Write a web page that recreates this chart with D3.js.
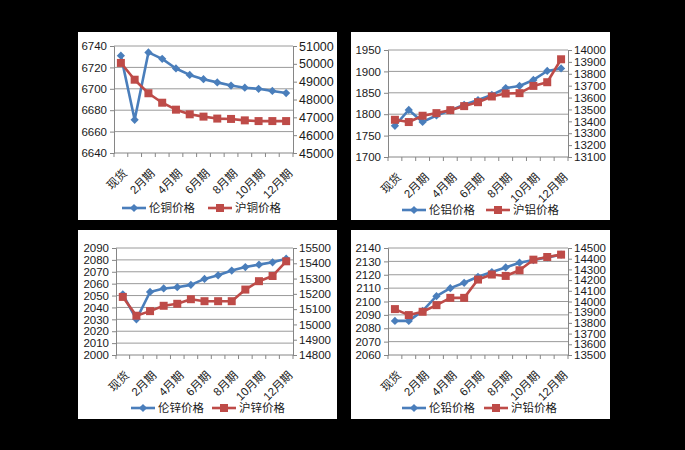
<!DOCTYPE html>
<html>
<head>
<meta charset="utf-8">
<script src="https://cdn.jsdelivr.net/npm/d3@7"></script>
<style>
  body { margin: 0; background: #000; }
  svg { display: block; }
  text { font-family: "Liberation Sans", "Noto Sans CJK SC", sans-serif; fill: #1a1a1a; }
</style>
</head>
<body>
<script>
// categories on the x axis
const categories = ["现货", "1月期", "2月期", "3月期", "4月期", "5月期", "6月期",
    "7月期", "8月期", "9月期", "10月期", "11月期", "12月期"];

// copper
const lmeCopper = [6731, 6671, 6734, 6728, 6719, 6713, 6709, 6706, 6703, 6701, 6700, 6698, 6696];
const shfeCopper = [50050, 49110, 48350, 47820, 47430, 47170, 47040, 46930, 46910, 46830, 46790, 46790, 46790];
// aluminium
const lmeAlu = [1773, 1810, 1782, 1797, 1809, 1822, 1833, 1845, 1861, 1866, 1880, 1901, 1907];
const shfeAlu = [13413, 13394, 13447, 13469, 13494, 13528, 13561, 13609, 13634, 13637, 13698, 13729, 13922];
// zinc
const lmeZinc = [2051, 2030, 2053, 2056, 2057, 2059, 2064, 2067, 2071, 2074, 2076, 2078, 2081];
const shfeZinc = [15180, 15057, 15087, 15122, 15135, 15165, 15152, 15152, 15152, 15228, 15283, 15317, 15413];
// lead
const lmeLead = [2085.5, 2085.5, 2093, 2104, 2110, 2114, 2118.5, 2122, 2125.5, 2129, 2131, 2133, 2135];
const shfeLead = [13929, 13873, 13904, 13966, 14034, 14034, 14205, 14252, 14239, 14292, 14391, 14416, 14438];

// axis ticks [min, max, step]
const copperLeftTicks = [6640, 6740, 20], copperRightTicks = [45000, 51000, 1000];
const aluLeftTicks = [1700, 1950, 50], aluRightTicks = [13100, 14000, 100];
const zincLeftTicks = [2000, 2090, 10], zincRightTicks = [14800, 15500, 100];
const leadLeftTicks = [2060, 2140, 10], leadRightTicks = [13500, 14500, 100];

const BLUE = "#4a7ebb", RED = "#be4b48";

const svg = d3.select("body").append("svg")
    .attr("width", 685)
    .attr("height", 450);

svg.append("rect").attr("width", 685).attr("height", 450).attr("fill", "#000");

function drawPanel(p) {
    const g = svg.append("g").attr("transform", `translate(${p.x},${p.y})`);
    g.append("rect").attr("width", p.w).attr("height", p.h).attr("fill", "#fff");

    const x = d3.scaleBand().domain(categories).range([p.left, p.right]).padding(0);
    const cx = d => x(d) + x.bandwidth() / 2;
    const yL = d3.scaleLinear().domain([p.lt[0], p.lt[1]]).range([p.bottom, p.top]);
    const yR = d3.scaleLinear().domain([p.rt[0], p.rt[1]]).range([p.bottom, p.top]);
    const lv = d3.range(p.lt[0], p.lt[1] + p.lt[2] / 2, p.lt[2]);
    const rv = d3.range(p.rt[0], p.rt[1] + p.rt[2] / 2, p.rt[2]);

    // gridlines
    g.selectAll(".grid").data(lv.slice(1)).enter().append("line")
        .attr("x1", p.left).attr("x2", p.right)
        .attr("y1", d => yL(d)).attr("y2", d => yL(d))
        .attr("stroke", "#9a9a9a").attr("stroke-width", 1);

    // left axis
    const la = g.append("g").attr("transform", `translate(${p.left},0)`)
        .call(d3.axisLeft(yL).tickValues(lv).tickFormat(d3.format("d")).tickSize(4).tickPadding(3));
    la.selectAll("path, line").attr("stroke", "#868686");
    la.selectAll("text").attr("font-size", 11.5).attr("fill", "#1a1a1a")
        .style("font-family", "Liberation Sans, sans-serif");

    // right axis
    const ra = g.append("g").attr("transform", `translate(${p.right},0)`)
        .call(d3.axisRight(yR).tickValues(rv).tickFormat(d3.format("d")).tickSize(4).tickPadding(2));
    ra.selectAll("path, line").attr("stroke", "#868686");
    ra.selectAll("text").attr("font-size", p.rfont || 11.5).attr("fill", "#1a1a1a")
        .style("font-family", "Liberation Sans, sans-serif");

    // bottom axis with ticks between categories
    g.append("line").attr("x1", p.left).attr("x2", p.right)
        .attr("y1", p.bottom).attr("y2", p.bottom).attr("stroke", "#868686");
    g.selectAll(".xtick").data(categories.concat([null])).enter().append("line")
        .attr("x1", d => d === null ? p.right : x(d))
        .attr("x2", d => d === null ? p.right : x(d))
        .attr("y1", p.bottom).attr("y2", p.bottom + 4)
        .attr("stroke", "#868686");
    g.selectAll(".xlab").data(categories.filter((c, i) => i % 2 === 0)).enter().append("text")
        .attr("transform", d => `translate(${cx(d) + 7},${p.bottom + 21}) rotate(-45)`)
        .attr("text-anchor", "end")
        .attr("font-size", 11.5)
        .text(d => d);

    // series
    const lineL = d3.line().x((d, i) => cx(categories[i])).y(d => yL(d));
    const lineR = d3.line().x((d, i) => cx(categories[i])).y(d => yR(d));

    g.append("path").datum(p.blue).attr("d", lineL)
        .attr("fill", "none").attr("stroke", BLUE).attr("stroke-width", 2.6)
        .attr("stroke-linejoin", "round");
    g.selectAll(".bm").data(p.blue).enter().append("path")
        .attr("d", d3.symbol(d3.symbolSquare, 34))
        .attr("transform", (d, i) => `translate(${cx(categories[i])},${yL(d)}) rotate(45)`)
        .attr("fill", BLUE);

    g.append("path").datum(p.red).attr("d", lineR)
        .attr("fill", "none").attr("stroke", RED).attr("stroke-width", 2.6)
        .attr("stroke-linejoin", "round");
    g.selectAll(".rm").data(p.red).enter().append("path")
        .attr("d", d3.symbol(d3.symbolSquare, 64))
        .attr("transform", (d, i) => `translate(${cx(categories[i])},${yR(d)})`)
        .attr("fill", RED);

    // legend
    const lg = g.append("g").attr("transform", `translate(0,${p.legY})`);
    lg.append("line").attr("x1", p.legB).attr("x2", p.legB + 24)
        .attr("stroke", BLUE).attr("stroke-width", 2.6);
    lg.append("path").attr("d", d3.symbol(d3.symbolSquare, 34))
        .attr("transform", `translate(${p.legB + 12},0) rotate(45)`).attr("fill", BLUE);
    lg.append("text").attr("x", p.legB + 27).attr("y", 4).attr("font-size", 11.5)
        .style("font-family", "Noto Sans CJK SC, sans-serif").text(p.names[0]);
    lg.append("line").attr("x1", p.legR).attr("x2", p.legR + 24)
        .attr("stroke", RED).attr("stroke-width", 2.6);
    lg.append("path").attr("d", d3.symbol(d3.symbolSquare, 64))
        .attr("transform", `translate(${p.legR + 12},0)`).attr("fill", RED);
    lg.append("text").attr("x", p.legR + 27).attr("y", 4).attr("font-size", 11.5)
        .style("font-family", "Noto Sans CJK SC, sans-serif").text(p.names[1]);
}

drawPanel({ x: 78, y: 32, w: 259, h: 188, left: 36, right: 215, top: 14, bottom: 121,
    lt: copperLeftTicks, rt: copperRightTicks, rfont: 12.5, blue: lmeCopper, red: shfeCopper,
    names: ["伦铜价格", "沪铜价格"], legY: 176, legB: 44, legR: 130 });
drawPanel({ x: 351, y: 32, w: 259, h: 188, left: 37, right: 217, top: 18, bottom: 125,
    lt: aluLeftTicks, rt: aluRightTicks, blue: lmeAlu, red: shfeAlu,
    names: ["伦铝价格", "沪铝价格"], legY: 178, legB: 51, legR: 135 });
drawPanel({ x: 78, y: 230, w: 259, h: 189, left: 38, right: 215, top: 18, bottom: 125,
    lt: zincLeftTicks, rt: zincRightTicks, blue: lmeZinc, red: shfeZinc,
    names: ["伦锌价格", "沪锌价格"], legY: 178, legB: 53, legR: 134 });
drawPanel({ x: 351, y: 230, w: 259, h: 189, left: 37, right: 217, top: 18, bottom: 125,
    lt: leadLeftTicks, rt: leadRightTicks, blue: lmeLead, red: shfeLead,
    names: ["伦铅价格", "沪铅价格"], legY: 178, legB: 51, legR: 133 });
</script>
</body>
</html>
